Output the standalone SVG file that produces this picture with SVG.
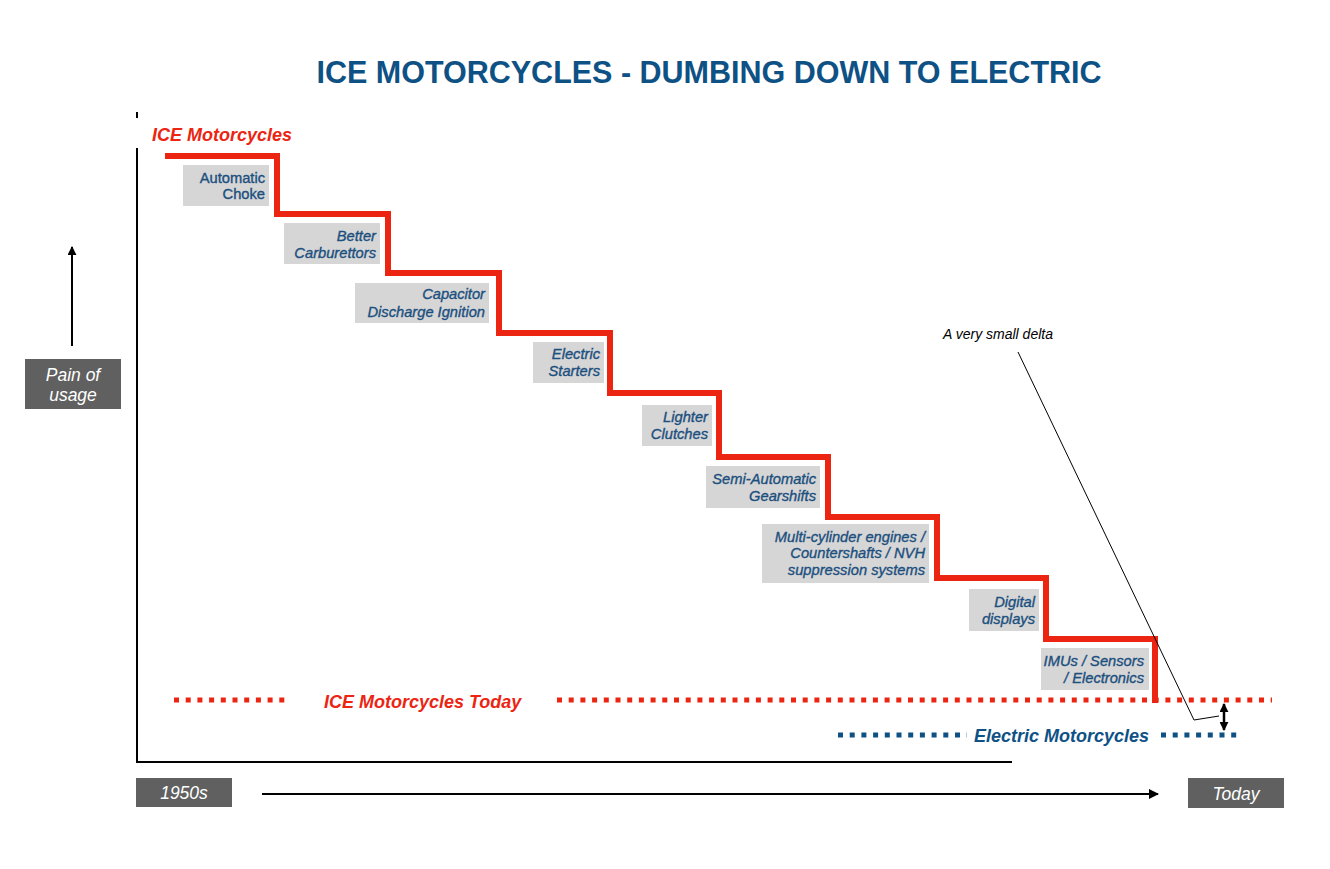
<svg xmlns="http://www.w3.org/2000/svg" width="1330" height="869" viewBox="0 0 1330 869">
<defs>
<marker id="ah" viewBox="0 0 10 10" refX="9" refY="5" markerWidth="9" markerHeight="9" markerUnits="userSpaceOnUse" orient="auto-start-reverse"><path d="M0,0 L10,5 L0,10 z" fill="#000"/></marker>
<marker id="ah2" viewBox="0 0 10 10" refX="9" refY="5" markerWidth="10" markerHeight="10" markerUnits="userSpaceOnUse" orient="auto-start-reverse"><path d="M0,0 L10,5 L0,10 z" fill="#000"/></marker>
</defs>
<style>
text{font-family:"Liberation Sans",Arial,sans-serif}
.lbl{font-size:14.7px;fill:#1b4f7e;stroke:#1b4f7e;stroke-width:0.35px;font-style:italic;text-anchor:end}
.box{fill:#d6d6d6}
.dark{fill:#606060}
.wt{fill:#fff;font-style:italic;font-size:17.5px;text-anchor:middle}
.red{fill:#ec2412;font-weight:bold;font-style:italic;font-size:18px}
</style>
<rect width="1330" height="869" fill="#fff"/>
<text x="709" y="83" text-anchor="middle" font-size="30.5" font-weight="bold" fill="#0e5185">ICE MOTORCYCLES - DUMBING DOWN TO ELECTRIC</text>

<g id="axes" stroke="#000" fill="none">
<line x1="137" y1="112" x2="137" y2="118" stroke-width="2"/>
<polyline points="137,148 137,762 1012,762" stroke-width="2"/>
</g>

<g id="y-label">
<rect class="dark" x="25" y="359" width="96" height="50"/>
<text class="wt" x="73" y="381" font-size="18">Pain of</text>
<text class="wt" x="73" y="401" font-size="18">usage</text>
</g>
<g id="x-start"><rect class="dark" x="136" y="778" width="96" height="29"/><text class="wt" x="184" y="799">1950s</text></g>
<g id="x-end"><rect class="dark" x="1188" y="778" width="96" height="30"/><text class="wt" x="1236" y="800">Today</text></g>

<g id="ice-title"><text class="red" x="152" y="141">ICE Motorcycles</text></g>

<g id="connectors" fill="none">
<polyline id="staircase" stroke="#ec2412" stroke-width="6" points="165,156 277,156 277,214 388,214 388,273 499,273 499,333 610,333 610,393 719,393 719,457 828,457 828,517 937,517 937,578 1046,578 1046,639 1155,639 1155,703"/>
<line x1="72" y1="346" x2="72" y2="247" stroke="#000" stroke-width="2" marker-end="url(#ah)"/>
<line x1="262" y1="794" x2="1158" y2="794" stroke="#000" stroke-width="2" marker-end="url(#ah2)"/>
<g stroke="#ec2412" stroke-width="5" stroke-dasharray="5 6.7">
<line x1="174" y1="700" x2="291" y2="700"/>
<line x1="557" y1="700" x2="1272" y2="700"/>
</g>
<g stroke="#0e5185" stroke-width="5" stroke-dasharray="5 6.7">
<line x1="838" y1="735" x2="967" y2="735"/>
<line x1="1161" y1="735" x2="1240" y2="735"/>
</g>
<polyline points="1018,352 1194,720 1219,716" stroke="#000" stroke-width="1"/>
<line x1="1224" y1="704" x2="1224" y2="730" stroke="#000" stroke-width="2.5" marker-start="url(#ah)" marker-end="url(#ah)"/>
</g>

<g id="ice-today"><text class="red" x="324" y="708">ICE Motorcycles Today</text></g>
<g id="electric"><text class="red" x="974" y="742" style="fill:#0e5185">Electric Motorcycles</text></g>
<g id="delta-note"><text x="943" y="339" font-size="14" font-style="italic" fill="#000">A very small delta</text></g>

<g id="n1"><rect class="box" x="183" y="165" width="86" height="41"/><text class="lbl" x="265" y="183" style="font-style:normal">Automatic</text><text class="lbl" x="265" y="199" style="font-style:normal">Choke</text></g>
<g id="n2"><rect class="box" x="284" y="223" width="96" height="41"/><text class="lbl" x="376" y="241">Better</text><text class="lbl" x="376" y="258">Carburettors</text></g>
<g id="n3"><rect class="box" x="355" y="283" width="134" height="40"/><text class="lbl" x="485" y="299">Capacitor</text><text class="lbl" x="485" y="317">Discharge Ignition</text></g>
<g id="n4"><rect class="box" x="533" y="342" width="71" height="41"/><text class="lbl" x="600" y="359">Electric</text><text class="lbl" x="600" y="376">Starters</text></g>
<g id="n5"><rect class="box" x="642" y="405" width="70" height="41"/><text class="lbl" x="708" y="422">Lighter</text><text class="lbl" x="708" y="439">Clutches</text></g>
<g id="n6"><rect class="box" x="706" y="466" width="114" height="42"/><text class="lbl" x="816" y="484">Semi-Automatic</text><text class="lbl" x="816" y="501">Gearshifts</text></g>
<g id="n7"><rect class="box" x="762" y="524" width="167" height="59"/><text class="lbl" x="925" y="542">Multi-cylinder engines /</text><text class="lbl" x="925" y="558">Countershafts / NVH</text><text class="lbl" x="925" y="575">suppression systems</text></g>
<g id="n8"><rect class="box" x="969" y="589" width="70" height="42"/><text class="lbl" x="1035" y="607">Digital</text><text class="lbl" x="1035" y="624">displays</text></g>
<g id="n9"><rect class="box" x="1041" y="648" width="108" height="42"/><text class="lbl" x="1144" y="666">IMUs / Sensors</text><text class="lbl" x="1144" y="683">/ Electronics</text></g>
</svg>
